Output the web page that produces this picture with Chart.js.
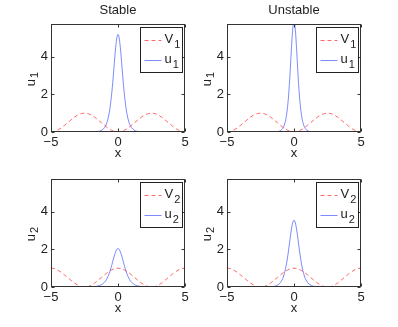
<!DOCTYPE html>
<html>
<head>
<meta charset="utf-8">
<script src="https://cdn.jsdelivr.net/npm/chart.js@4.4.1/dist/chart.umd.min.js"></script>
<style>
  body { margin: 0; background: #fff; }
  #wrap { position: relative; width: 398px; height: 327px; }
  canvas { position: absolute; }
</style>
</head>
<body>
<div id="wrap">
  <canvas id="c1" width="199" height="163" style="left:0;top:0"></canvas>
  <canvas id="c2" width="199" height="163" style="left:176px;top:0"></canvas>
  <canvas id="c3" width="199" height="163" style="left:0;top:155px"></canvas>
  <canvas id="c4" width="199" height="163" style="left:176px;top:155px"></canvas>
</div>
<script>
const xV = [-5, -4.75, -4.5, -4.25, -4, -3.75, -3.5, -3.25, -3, -2.75, -2.5, -2.25, -2, -1.75, -1.5, -1.25, -1, -0.75, -0.5, -0.25,
  0, 0.25, 0.5, 0.75, 1, 1.25, 1.5, 1.75, 2, 2.25, 2.5, 2.75, 3, 3.25, 3.5, 3.75, 4, 4.25, 4.5, 4.75, 5];
const v1 = [0, 0.02, 0.10, 0.21, 0.35, 0.5, 0.65, 0.79, 0.9, 0.98, 1, 0.98, 0.9, 0.79, 0.65, 0.5, 0.35, 0.21, 0.10, 0.02,
  0, 0.02, 0.10, 0.21, 0.35, 0.5, 0.65, 0.79, 0.9, 0.98, 1, 0.98, 0.9, 0.79, 0.65, 0.5, 0.35, 0.21, 0.10, 0.02, 0];
const v2 = [1, 0.98, 0.9, 0.79, 0.65, 0.5, 0.35, 0.21, 0.10, 0.02, 0, 0.02, 0.10, 0.21, 0.35, 0.5, 0.65, 0.79, 0.9, 0.98,
  1, 0.98, 0.9, 0.79, 0.65, 0.5, 0.35, 0.21, 0.10, 0.02, 0, 0.02, 0.10, 0.21, 0.35, 0.5, 0.65, 0.79, 0.9, 0.98, 1];

const xU = [-5, -4, -3, -2, -1.6, -1.4, -1.2, -1, -0.9, -0.8, -0.7, -0.6, -0.5, -0.4, -0.3, -0.2, -0.1,
  0, 0.1, 0.2, 0.3, 0.4, 0.5, 0.6, 0.7, 0.8, 0.9, 1, 1.2, 1.4, 1.6, 2, 3, 4, 5];
const u1Stable = [0, 0, 0, 0.003, 0.017, 0.04, 0.10, 0.24, 0.37, 0.56, 0.85, 1.27, 1.84, 2.57, 3.43, 4.30, 4.95,
  5.2, 4.95, 4.30, 3.43, 2.57, 1.84, 1.27, 0.85, 0.56, 0.37, 0.24, 0.10, 0.04, 0.017, 0.003, 0, 0, 0];
const u1Unstable = [0, 0, 0, 0, 0.002, 0.007, 0.02, 0.08, 0.14, 0.24, 0.42, 0.72, 1.21, 1.98, 3.05, 4.33, 5.44,
  5.9, 5.44, 4.33, 3.05, 1.98, 1.21, 0.72, 0.42, 0.24, 0.14, 0.08, 0.02, 0.007, 0.002, 0, 0, 0, 0];
const u2Stable = [0, 0, 0, 0.009, 0.036, 0.07, 0.14, 0.26, 0.35, 0.48, 0.64, 0.84, 1.07, 1.34, 1.60, 1.83, 1.99,
  2.05, 1.99, 1.83, 1.60, 1.34, 1.07, 0.84, 0.64, 0.48, 0.35, 0.26, 0.14, 0.07, 0.036, 0.009, 0, 0, 0];
const u2Unstable = [0, 0, 0, 0.005, 0.023, 0.05, 0.115, 0.25, 0.37, 0.53, 0.77, 1.08, 1.49, 1.98, 2.53, 3.04, 3.41,
  3.55, 3.41, 3.04, 2.53, 1.98, 1.49, 1.08, 0.77, 0.53, 0.37, 0.25, 0.115, 0.05, 0.023, 0.005, 0, 0, 0];

const yMax = 5.75;
const textColor = '#222';
const redDash = 'rgba(255,40,40,0.7)';
const blue = 'rgba(40,60,255,0.6)';
const fam = '"Liberation Sans", Arial, sans-serif';

Chart.defaults.font.family = fam;
Chart.defaults.font.size = 13;
Chart.defaults.color = textColor;

function pts(xs, ys) {
  return xs.map((x, i) => ({ x: x, y: ys[i] }));
}

// box round the plot, with short ticks pointing inward (matlab style)
const framePlugin = {
  id: 'frame',
  afterDatasetsDraw(chart) {
    const { ctx, chartArea: a, scales } = chart;
    const l = Math.round(a.left) + 0.5, r = Math.round(a.right) - 0.5;
    const t = Math.round(a.top) + 0.5, b = Math.round(a.bottom) - 0.5;
    ctx.save();
    ctx.strokeStyle = '#333';
    ctx.lineWidth = 1;
    ctx.strokeRect(l, t, r - l, b - t);
    ctx.beginPath();
    scales.x.ticks.forEach(tk => {
      const px = Math.round(scales.x.getPixelForValue(tk.value)) + 0.5;
      ctx.moveTo(px, b); ctx.lineTo(px, b - 3);
      ctx.moveTo(px, t); ctx.lineTo(px, t + 3);
    });
    scales.y.ticks.forEach(tk => {
      const py = Math.round(scales.y.getPixelForValue(tk.value)) + 0.5;
      ctx.moveTo(l, py); ctx.lineTo(l + 3, py);
      ctx.moveTo(r, py); ctx.lineTo(r - 3, py);
    });
    ctx.stroke();
    ctx.restore();
  }
};

// text with a subscript: first char normal, the rest lowered
function subText(ctx, s, x, y, dy) {
  ctx.font = '13px ' + fam;
  const main = s.charAt(0);
  ctx.fillText(main, x, y);
  const mw = ctx.measureText(main).width;
  ctx.font = '11px ' + fam;
  ctx.fillText(s.slice(1), x + mw + 1, y + dy);
}

// legend box inside the top right corner + rotated y title
const boxLegend = {
  id: 'boxLegend',
  afterDraw(chart) {
    const { ctx, chartArea: a } = chart;
    const w = 42, h = 45;
    const x0 = Math.round(a.right) - 3 - w + 0.5;
    const y0 = Math.round(a.top) + 3 + 0.5;
    ctx.save();
    ctx.fillStyle = '#fff';
    ctx.strokeStyle = '#222';
    ctx.lineWidth = 1;
    ctx.fillRect(x0, y0, w, h);
    ctx.strokeRect(x0, y0, w, h);
    chart.data.datasets.forEach((ds, i) => {
      const y = y0 + 13 + i * 20;
      ctx.beginPath();
      ctx.setLineDash(ds.borderDash || []);
      ctx.strokeStyle = ds.borderColor;
      ctx.lineWidth = ds.borderWidth;
      ctx.moveTo(x0 + 4, y);
      ctx.lineTo(x0 + 21, y);
      ctx.stroke();
      ctx.setLineDash([]);
      ctx.fillStyle = textColor;
      ctx.textBaseline = 'middle';
      subText(ctx, ds.label, x0 + 24, y - 1, 5);
    });

    const yt = chart.options.yTitleText;
    ctx.translate(31, (a.top + a.bottom) / 2 - 2);
    ctx.rotate(-Math.PI / 2);
    ctx.font = '13px ' + fam;
    const tw = ctx.measureText(yt).width + 6;
    ctx.fillStyle = textColor;
    ctx.textBaseline = 'middle';
    subText(ctx, yt, -tw / 2, 0, 4);
    ctx.restore();
  }
};

function makePanel(id, title, vLabel, vData, uLabel, uData, yTitle) {
  return new Chart(document.getElementById(id), {
    type: 'line',
    data: {
      datasets: [
        {
          label: vLabel,
          data: pts(xV, vData),
          borderColor: redDash,
          borderWidth: 1,
          borderDash: [4, 3],
          pointRadius: 0,
          cubicInterpolationMode: 'monotone'
        },
        {
          label: uLabel,
          data: pts(xU, uData),
          borderColor: blue,
          borderWidth: 1,
          pointRadius: 0,
          cubicInterpolationMode: 'monotone'
        }
      ]
    },
    options: {
      responsive: false,
      animation: false,
      devicePixelRatio: 1,
      yTitleText: yTitle,
      layout: { padding: { left: 0, right: 14, top: title ? 0 : 24, bottom: 0 } },
      plugins: {
        legend: { display: false },
        tooltip: { enabled: false },
        title: {
          display: !!title,
          text: title,
          fullSize: false,
          color: textColor,
          font: { size: 13, weight: 'normal' },
          padding: { top: 3, bottom: 5.4 }
        }
      },
      scales: {
        x: {
          type: 'linear',
          min: -5,
          max: 5,
          grid: { display: false, drawTicks: false },
          border: { display: false },
          ticks: {
            stepSize: 5,
            padding: 3,
            maxRotation: 0,
            callback: v => String(v).replace('-', '\u2212')
          },
          title: { display: true, text: 'x', font: { size: 13 }, padding: { top: 0, bottom: 2 } },
          afterFit: s => { s.height = 31; }
        },
        y: {
          min: 0,
          max: yMax,
          grid: { display: false, drawTicks: false },
          border: { display: false },
          ticks: { stepSize: 2, includeBounds: false, padding: 3 },
          afterFit: s => { s.width = 51; }
        }
      }
    },
    plugins: [framePlugin, boxLegend]
  });
}

makePanel('c1', 'Stable', 'V1', v1, 'u1', u1Stable, 'u1');
makePanel('c2', 'Unstable', 'V1', v1, 'u1', u1Unstable, 'u1');
makePanel('c3', '', 'V2', v2, 'u2', u2Stable, 'u2');
makePanel('c4', '', 'V2', v2, 'u2', u2Unstable, 'u2');
</script>
</body>
</html>
